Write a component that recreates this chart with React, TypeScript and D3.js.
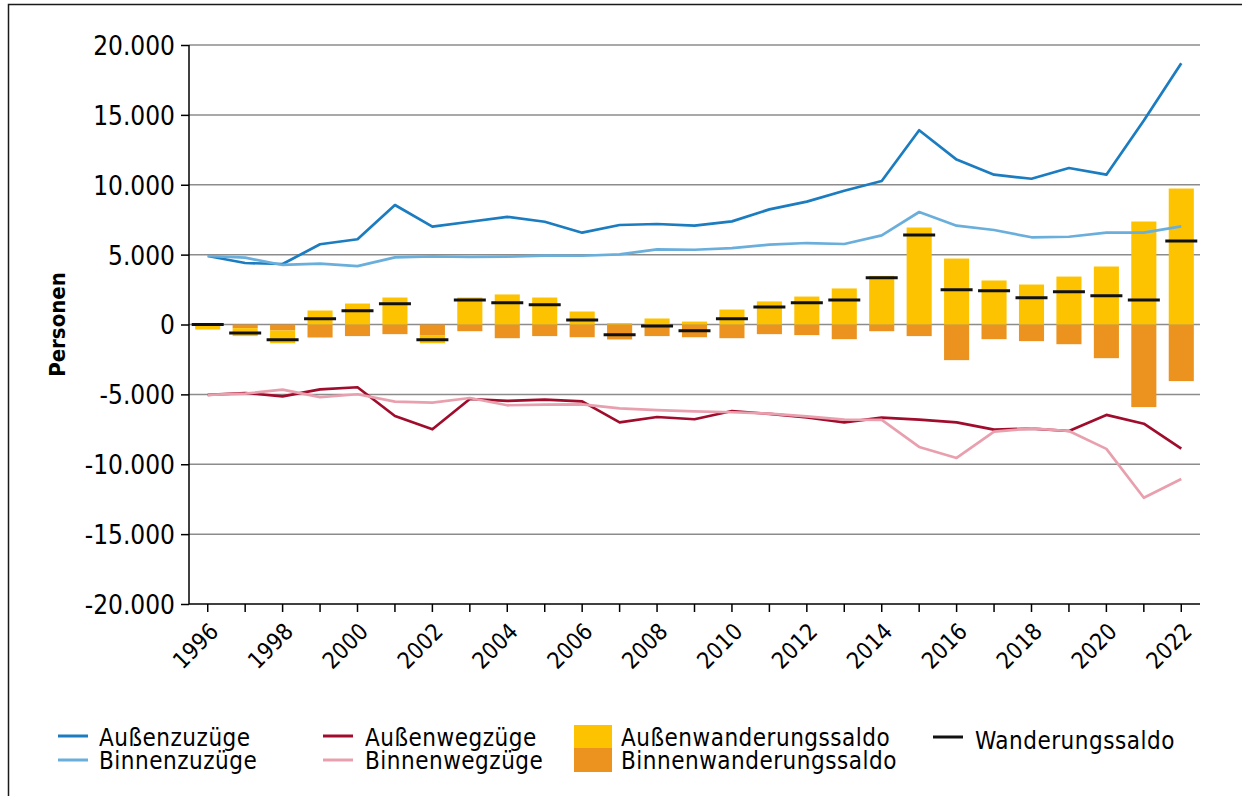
import { useEffect, useRef } from 'react';
import * as d3 from 'd3';

const years = d3.range(1996, 2023).map(String);
const yTicks = [-20000, -15000, -10000, -5000, 0, 5000, 10000, 15000, 20000];

// Personen
const aussenZuzuege = [4900, 4400, 4330, 5740, 6100, 8550, 7000, 7350, 7700, 7350, 6570, 7120, 7190, 7070, 7380, 8240, 8790, 9570, 10270, 13900, 11800, 10720, 10430, 11200, 10720, 14600, 18690];
const binnenZuzuege = [4900, 4780, 4260, 4350, 4180, 4800, 4880, 4830, 4860, 4930, 4920, 5020, 5380, 5350, 5470, 5710, 5830, 5760, 6380, 8050, 7070, 6760, 6240, 6280, 6570, 6570, 7020];
const aussenWegzuege = [-5040, -4900, -5140, -4640, -4490, -6550, -7500, -5330, -5470, -5380, -5500, -7000, -6620, -6780, -6190, -6400, -6640, -7000, -6660, -6810, -7000, -7520, -7450, -7620, -6470, -7100, -8880];
const binnenWegzuege = [-5040, -4950, -4660, -5200, -4990, -5520, -5590, -5260, -5780, -5730, -5710, -6000, -6120, -6210, -6280, -6380, -6570, -6810, -6830, -8760, -9550, -7670, -7430, -7620, -8900, -12400, -11050];
const aussenSaldo = [-360, -570, -910, 1000, 1500, 1930, -550, 1930, 2150, 1930, 930, 100, 430, 210, 1070, 1650, 2000, 2580, 3480, 6940, 4720, 3150, 2860, 3430, 4150, 7370, 9730];
const binnenSaldo = [0, -260, -430, -930, -830, -690, -790, -480, -980, -830, -910, -1070, -830, -910, -980, -690, -760, -1050, -480, -830, -2550, -1050, -1190, -1410, -2410, -5910, -4050];
const wanderungsSaldo = [0, -600, -1100, 410, 980, 1480, -1100, 1760, 1550, 1410, 330, -740, -100, -450, 410, 1260, 1550, 1760, 3340, 6410, 2480, 2410, 1910, 2340, 2050, 1760, 5980];

const lineSeries = [
	{ label: 'Außenzuzüge', values: aussenZuzuege, color: '#1b7cc0' },
	{ label: 'Binnenzuzüge', values: binnenZuzuege, color: '#6aafdc' },
	{ label: 'Außenwegzüge', values: aussenWegzuege, color: '#a00d2c' },
	{ label: 'Binnenwegzüge', values: binnenWegzuege, color: '#e9a0ae' },
];

const YELLOW = '#fdc300';
const ORANGE = '#eb931e';
const FONT = "'DejaVu Sans Condensed', 'DejaVu Sans', sans-serif";

const deLocale = d3.formatLocale({
	decimal: ',',
	thousands: '.',
	grouping: [3],
	currency: ['', ' €'],
	minus: '-',
});

export default function App() {
	const svgRef = useRef<SVGSVGElement>(null);

	useEffect(() => {
		if (!svgRef.current) return;
		const svg = d3.select(svgRef.current);
		svg.selectAll('*').remove();

		const left = 189;
		const right = 1200;
		const top = 45;
		const bottom = 604;

		const x = d3.scaleBand().domain(years).range([left, right]).paddingInner(0.33).paddingOuter(0.165);
		const y = d3.scaleLinear().domain([-20000, 20000]).range([bottom, top]);
		const cx = (i: number) => (x(years[i]) as number) + x.bandwidth() / 2;

		// frame
		svg.append('rect')
			.attr('x', 8.5).attr('y', 4.5)
			.attr('width', 1300).attr('height', 900)
			.attr('fill', 'none').attr('stroke', '#1a1a1a').attr('stroke-width', 1.5);

		// grid
		svg.append('g')
			.selectAll('line')
			.data(yTicks.filter((d) => d !== -20000))
			.join('line')
			.attr('x1', left).attr('x2', right)
			.attr('y1', (d) => y(d)).attr('y2', (d) => y(d))
			.attr('stroke', '#8c8c8c').attr('stroke-width', 1.5);

		// bars: positive yellow from zero, negatives stack orange first then yellow
		const bars = svg.append('g');
		years.forEach((yr, i) => {
			const a = aussenSaldo[i];
			const b = binnenSaldo[i];
			const bx = x(yr) as number;
			const bw = x.bandwidth();
			const negB = Math.min(b, 0);
			if (b < 0) {
				bars.append('rect').attr('x', bx).attr('width', bw)
					.attr('y', y(0)).attr('height', y(b) - y(0)).attr('fill', ORANGE);
			}
			if (a > 0) {
				bars.append('rect').attr('x', bx).attr('width', bw)
					.attr('y', y(a)).attr('height', y(0) - y(a)).attr('fill', YELLOW);
			} else if (a < 0) {
				bars.append('rect').attr('x', bx).attr('width', bw)
					.attr('y', y(negB)).attr('height', y(negB + a) - y(negB)).attr('fill', YELLOW);
			}
		});

		// lines
		lineSeries.forEach((s) => {
			const line = d3.line<number>()
				.x((_, i) => cx(i))
				.y((d) => y(d));
			svg.append('path')
				.datum(s.values)
				.attr('fill', 'none')
				.attr('stroke', s.color)
				.attr('stroke-width', 2.7)
				.attr('stroke-linejoin', 'round')
				.attr('d', line);
		});

		// Wanderungssaldo dashes
		svg.append('g')
			.selectAll('line')
			.data(wanderungsSaldo)
			.join('line')
			.attr('x1', (_, i) => cx(i) - 16).attr('x2', (_, i) => cx(i) + 16)
			.attr('y1', (d) => y(d)).attr('y2', (d) => y(d))
			.attr('stroke', '#111').attr('stroke-width', 3);

		// y axis
		const yAxis = svg.append('g')
			.attr('transform', `translate(${left},0)`)
			.call(d3.axisLeft(y).tickValues(yTicks).tickSize(8).tickPadding(6).tickFormat((d) => deLocale.format(',')(d as number)));
		yAxis.select('.domain').attr('stroke', '#000').attr('stroke-width', 1.5).attr('d', `M0,${top}V${bottom}`);
		yAxis.selectAll('.tick line').attr('stroke', '#000').attr('stroke-width', 1.5);
		yAxis.selectAll('.tick text').attr('fill', '#000').style('font-family', FONT).style('font-size', '26px').attr('dy', '0.36em');

		// x axis
		const xAxis = svg.append('g')
			.attr('transform', `translate(0,${bottom})`)
			.call(d3.axisBottom(x).tickSize(8).tickSizeOuter(0).tickFormat((d) => (+d % 2 === 0 ? d : '')));
		xAxis.select('.domain').attr('stroke', '#000').attr('stroke-width', 1.5).attr('d', `M${left},0H${right}`);
		xAxis.selectAll('.tick line').attr('stroke', '#000').attr('stroke-width', 1.5);
		xAxis.selectAll('.tick text')
			.attr('fill', '#000')
			.style('font-family', FONT)
			.style('font-size', '23px')
			.attr('text-anchor', 'end')
			.attr('y', 0)
			.attr('dy', 0)
			.attr('transform', 'translate(12,29) rotate(-45)');

		// y label
		svg.append('text')
			.attr('transform', `translate(65,${(top + bottom) / 2}) rotate(-90)`)
			.attr('text-anchor', 'middle')
			.style('font-family', FONT)
			.style('font-size', '22px')
			.style('font-weight', 'bold')
			.text('Personen');

		// legend
		const legend = svg.append('g')
			.style('font-family', FONT)
			.style('font-size', '24px')
			.style('letter-spacing', '0.5px');
		const lineLegend = [
			{ s: lineSeries[0], lx: 58, tx: 99, row: 0 },
			{ s: lineSeries[1], lx: 58, tx: 99, row: 1 },
			{ s: lineSeries[2], lx: 323, tx: 365, row: 0 },
			{ s: lineSeries[3], lx: 323, tx: 365, row: 1 },
		];
		lineLegend.forEach((d) => {
			legend.append('line')
				.attr('x1', d.lx).attr('x2', d.lx + 30)
				.attr('y1', 736 + d.row * 24).attr('y2', 736 + d.row * 24)
				.attr('stroke', d.s.color).attr('stroke-width', 3);
			legend.append('text').attr('x', d.tx).attr('y', 746 + d.row * 22.5).text(d.s.label);
		});
		legend.append('rect').attr('x', 574).attr('y', 725).attr('width', 38).attr('height', 23).attr('fill', YELLOW);
		legend.append('rect').attr('x', 574).attr('y', 748).attr('width', 38).attr('height', 24).attr('fill', ORANGE);
		legend.append('text').attr('x', 621).attr('y', 746).text('Außenwanderungssaldo');
		legend.append('text').attr('x', 621).attr('y', 768.5).text('Binnenwanderungssaldo');
		legend.append('line')
			.attr('x1', 933).attr('x2', 963).attr('y1', 737).attr('y2', 737)
			.attr('stroke', '#111').attr('stroke-width', 3);
		legend.append('text').attr('x', 975).attr('y', 749).text('Wanderungssaldo');
	}, []);

	return (
		<svg
			ref={svgRef}
			width={1242}
			height={796}
			style={{ position: 'absolute', left: 0, top: 0, background: '#fff' }}
		/>
	);
}
